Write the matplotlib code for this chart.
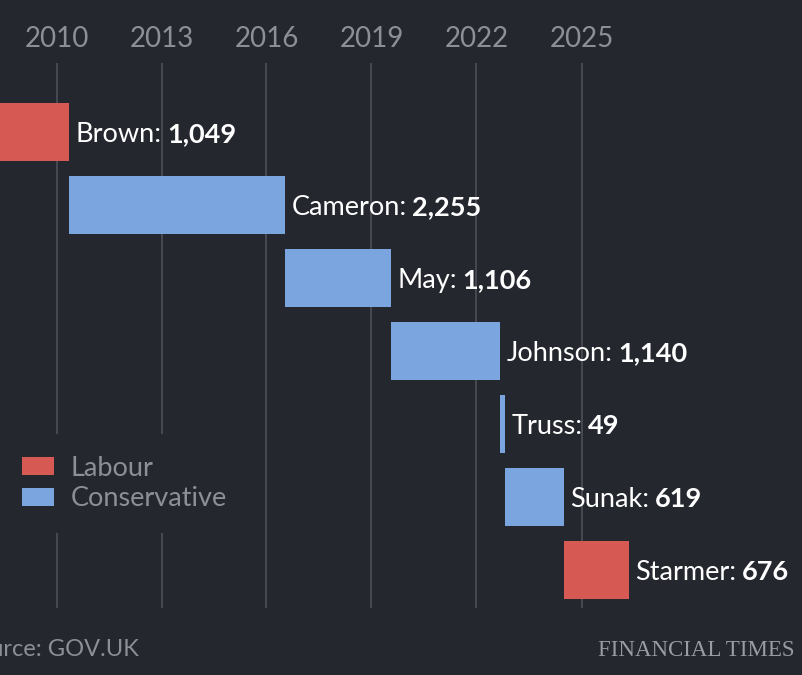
import datetime as dt
import matplotlib.pyplot as plt
import matplotlib.dates as mdates
from matplotlib.patches import Patch

# data
names = ['Brown', 'Cameron', 'May', 'Johnson', 'Truss', 'Sunak', 'Starmer']
starts = ['2007-06-27', '2010-05-11', '2016-07-13', '2019-07-24',
          '2022-09-06', '2022-10-25', '2024-07-05']
days = [1049, 2255, 1106, 1140, 49, 619, 676]
parties = ['Labour', 'Conservative', 'Conservative', 'Conservative',
           'Conservative', 'Conservative', 'Labour']
tick_years = [2010, 2013, 2016, 2019, 2022, 2025]

bg = '#25272f'
colors = {'Labour': '#d65a53', 'Conservative': '#7aa5de'}
grey = '#8d8f96'
font = 'Lato'

plt.rcParams['font.family'] = [font, 'DejaVu Sans']

fig = plt.figure(figsize=(8.03, 6.75), dpi=100, facecolor=bg)
ax = fig.add_axes([0, 0.0993, 1, 0.8074])
ax.set_facecolor(bg)

start_num = [mdates.date2num(dt.date.fromisoformat(s)) for s in starts]
rows = list(range(len(names)))
bar_cols = [colors[p] for p in parties]
ax.barh(rows, days, left=start_num, height=0.795, color=bar_cols, zorder=2)

# labels: name regular, number bold, sharing one baseline
for r, s, d, n in zip(rows, start_num, days, names):
    t = ax.annotate(n + ':', xy=(s + d, r), xytext=(4.5, -7),
                    textcoords='offset points', va='baseline', ha='left',
                    fontsize=19.5, color='white')
    ax.annotate(f'{d:,}', xy=(1, r), xycoords=(t, 'data'), xytext=(4, -7),
                textcoords='offset points', va='baseline', ha='left',
                fontsize=19.5, color='white', fontweight='bold')

# x scale: 35 px per year, 2010 at x=56.5 px
px_per_day = 35 / 365.25
d2010 = mdates.date2num(dt.date(2010, 1, 1))
left = d2010 - 56.5 / px_per_day
ax.set_xlim(left, left + 803 / px_per_day)
ax.set_ylim(6.52, -0.945)

ticks = [mdates.date2num(dt.date(y, 1, 1)) for y in tick_years]
ax.set_xticks(ticks)
ax.set_xticklabels([str(y) for y in tick_years])
ax.xaxis.set_ticks_position('top')
ax.tick_params(axis='x', length=0, pad=8, labelsize=20, labelcolor=grey)
ax.set_yticks([])
for sp in ax.spines.values():
    sp.set_visible(False)
ax.set_axisbelow(True)
ax.grid(axis='x', color='#4a4c54', lw=1.3)

handles = [Patch(facecolor=colors['Labour']), Patch(facecolor=colors['Conservative'])]
leg = ax.legend(handles, ['Labour', 'Conservative'], loc='upper left',
                bbox_to_anchor=(0, 1 - 434 / 675), bbox_transform=fig.transFigure,
                frameon=True, facecolor=bg, edgecolor='none', framealpha=1,
                fontsize=19.5, labelcolor=grey, handlelength=1.2, handleheight=0.65,
                handletextpad=0.6, labelspacing=0.2, borderpad=0.8, borderaxespad=0,
                fancybox=False)

fig.text(139 / 803, 1 - 650 / 675, 'Source: GOV.UK', ha='right', va='center',
         fontsize=17, color=grey)
fig.text(795 / 803, 1 - 650 / 675, 'FINANCIAL TIMES', ha='right', va='center',
         family='Liberation Serif', fontsize=16.5, color='#9a9ca3')

fig.savefig('out.png', dpi=100, facecolor=bg)
